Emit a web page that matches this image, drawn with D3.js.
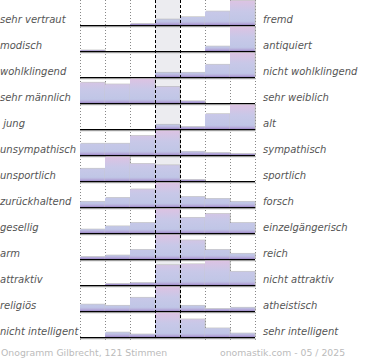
<!DOCTYPE html>
<html><head><meta charset="utf-8">
<script src="https://cdn.jsdelivr.net/npm/d3@7"></script>
<style>body{margin:0;background:#fff}svg{display:block}text{white-space:pre}</style>
</head><body>
<script>
const leftLabels = ["sehr vertraut","modisch","wohlklingend","sehr männlich"," jung","unsympathisch","unsportlich","zurückhaltend","gesellig","arm","attraktiv","religiös","nicht intelligent"];
const rightLabels = ["fremd","antiquiert","nicht wohlklingend","sehr weiblich","alt","sympathisch","sportlich","forsch","einzelgängerisch","reich","nicht attraktiv","atheistisch","sehr intelligent"];
const bins = [1,2,3,4,5,6,7];
const values = [
  [0,0,5,23,33,56,100],
  [3,0,0,0,0,19,100],
  [0,0,0,18,18,51,100],
  [84,77,100,67,8,0,0],
  [0,0,0,18,9,62,100],
  [47,47,79,100,14,9,5],
  [51,100,71,65,5,0,0],
  [22,38,73,100,42,34,22],
  [15,28,42,100,63,79,42],
  [9,15,38,100,77,38,22],
  [0,5,9,82,86,100,55],
  [27,22,55,100,22,9,14],
  [0,19,11,100,73,36,15]
];
const footerLeft = "Onogramm Gilbrecht, 121 Stimmen";
const footerRight = "onomastik.com - 05 / 2025";

const W = 370, H = 360;
const svg = d3.select("body").append("svg").attr("width", W).attr("height", H);
const x = d3.scaleBand().domain(bins).range([80, 255]).padding(0);
const rowY = d3.scaleBand().domain(d3.range(leftLabels.length)).range([-1, 337]).padding(0);
const h = d3.scaleLinear().domain([0, 100]).range([0, 24.3]);
const font = "DejaVu Sans, sans-serif";

// middle column background
svg.append("rect").attr("x", x(4)).attr("y", 0).attr("width", x.bandwidth())
  .attr("height", 337).attr("fill", "#ececf0");

const defs = svg.append("defs");
leftLabels.forEach((_, i) => {
  const base = rowY(i) + rowY.bandwidth();
  const g = defs.append("linearGradient").attr("id", "g" + i)
    .attr("gradientUnits", "userSpaceOnUse").attr("x1", 0).attr("x2", 0)
    .attr("y1", base - 25).attr("y2", base);
  g.append("stop").attr("offset", "0").attr("stop-color", "#dec2e2");
  g.append("stop").attr("offset", "0.45").attr("stop-color", "#c8c8e8");
  g.append("stop").attr("offset", "0.85").attr("stop-color", "#c0c6e6");
  g.append("stop").attr("offset", "0.93").attr("stop-color", "#b8b0dc");
  g.append("stop").attr("offset", "1").attr("stop-color", "#9c88c8");
});

// grid lines
[1,2,3,6,7].forEach(b => {
  svg.append("line").attr("x1", x(b) + 0.5).attr("x2", x(b) + 0.5).attr("y1", 0).attr("y2", 340)
    .attr("stroke", "#888").attr("stroke-width", 1).attr("stroke-dasharray", "1,2");
});
svg.append("line").attr("x1", 255.5).attr("x2", 255.5).attr("y1", 0).attr("y2", 340)
  .attr("stroke", "#888").attr("stroke-width", 1).attr("stroke-dasharray", "1,2");

const rows = svg.selectAll("g.row").data(values).join("g").attr("class", "row");
rows.each(function(vals, i) {
  const g = d3.select(this);
  const base = rowY(i) + rowY.bandwidth();
  vals.forEach((v, j) => {
    if (v <= 0) return;
    const bx = x(bins[j]), bh = h(v);
    g.append("rect").attr("x", bx + 1).attr("y", base - bh - 0.7).attr("width", x.bandwidth())
      .attr("height", bh + 0.7).attr("fill", "#9a9a9a").attr("opacity", 0.55);
    g.append("rect").attr("x", bx).attr("y", base - bh).attr("width", x.bandwidth() - 0.3)
      .attr("height", bh).attr("fill", "url(#g" + i + ")");
  });
  g.append("line").attr("x1", 80).attr("x2", 256).attr("y1", base + 1.8).attr("y2", base + 1.8)
    .attr("stroke", "#bbb").attr("stroke-width", 1);
  g.append("line").attr("x1", 80).attr("x2", 255).attr("y1", base + 0.6).attr("y2", base + 0.6)
    .attr("stroke", "#000").attr("stroke-width", 1.4);
  g.append("text").attr("x", 0).attr("y", base - 2).text(leftLabels[i])
    .attr("font-family", font).attr("font-size", 10).attr("font-style", "italic").attr("fill", "#555");
  g.append("text").attr("x", 263).attr("y", base - 2).text(rightLabels[i])
    .attr("font-family", font).attr("font-size", 10).attr("font-style", "italic").attr("fill", "#555");
});

// dashed middle lines
[x(4), x(5)].forEach(xx => {
  svg.append("line").attr("x1", xx + 0.5).attr("x2", xx + 0.5).attr("y1", 0).attr("y2", 340)
    .attr("stroke", "#000").attr("stroke-width", 1).attr("stroke-dasharray", "3,2");
});

svg.append("text").attr("x", 1).attr("y", 356).text(footerLeft)
  .attr("font-family", font).attr("font-size", 9.3).attr("fill", "#bbb");
svg.append("text").attr("x", 220).attr("y", 356).text(footerRight)
  .attr("font-family", font).attr("font-size", 9.3).attr("fill", "#bbb");
</script>
</body></html>
